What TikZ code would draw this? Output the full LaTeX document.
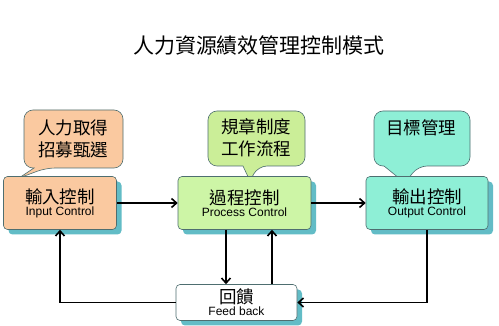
\documentclass[tikz,border=0pt]{standalone}
\usepackage{fontspec}
\setmainfont{Liberation Sans}
\newfontfamily\cjk{Noto Sans CJK TC}
\usetikzlibrary{arrows.meta,shadows}
\definecolor{peach}{HTML}{FAC9A0}
\definecolor{lgreen}{HTML}{CDF5A6}
\definecolor{cgreen}{HTML}{CBEE98}
\definecolor{aqua}{HTML}{8EEFD6}
\definecolor{shadowc}{HTML}{62BCC6}
\definecolor{edgec}{HTML}{4E6E70}
\tikzset{
  ctrlbox/.style={draw=edgec, line width=0.6pt, rounded corners=4pt, align=center,
    inner sep=1pt,
    drop shadow={shadow xshift=5pt, shadow yshift=-5pt, fill=shadowc, opacity=1}},
  bubble/.style={draw=edgec, line width=0.6pt, rounded corners=9pt},
  btext/.style={align=center, font=\cjk\fontsize{17.5}{22}\selectfont, inner sep=0pt},
  flow/.style={line width=1.8pt, -{Straight Barb[length=5pt,width=9pt,line width=1.6pt]}},
}
\newcommand{\bigcjk}[1]{{\cjk\fontsize{17.5}{18}\selectfont #1}}
\newcommand{\smalleng}[1]{{\fontsize{12}{13}\selectfont #1}}
\begin{document}
\begin{tikzpicture}[x=1pt,y=-1pt]
\useasboundingbox[fill=white] (0,0) rectangle (499,326);
% title
\node[font=\cjk\fontsize{21}{24}\selectfont] (title) at (259,45) {人力資源績效管理控制模式};

% callouts
\draw[bubble, fill=peach] (24,110) -- (123,110) -- (123,168) -- (46,168)
  [sharp corners] -- (19,178) -- (34,168) [rounded corners=9pt] -- (24,168) -- cycle;
\node[btext] (c1) at (73,139) {人力取得\\招募甄選};

\draw[bubble, fill=cgreen] (208,111) -- (305,111) -- (305,166) -- (258,166)
  [sharp corners] -- (250,181) -- (243,166) [rounded corners=9pt] -- (208,166) -- cycle;
\node[btext] (c2) at (256,138) {規章制度\\工作流程};

\draw[bubble, fill=aqua] (374,111) -- (470,111) -- (470,166) -- (418,166)
  [sharp corners] -- (405,183) -- (384,166) [rounded corners=9pt] -- (374,166) -- cycle;
\node[btext] (c3) at (421,128) {目標管理};

% control boxes
\node[ctrlbox, fill=peach, minimum width=113pt, minimum height=53pt] (in) at (60,203)
  {\bigcjk{輸入控制}\\[0pt]\smalleng{Input Control}};
\node[ctrlbox, fill=lgreen, minimum width=133pt, minimum height=53pt] (proc) at (244.5,203)
  {\bigcjk{過程控制}\\[0pt]\smalleng{Process Control}};
\node[ctrlbox, fill=aqua, minimum width=122pt, minimum height=53pt] (out) at (427,203)
  {\bigcjk{輸出控制}\\[0pt]\smalleng{Output Control}};
\node[ctrlbox, fill=white, minimum width=121pt, minimum height=36pt, inner sep=0pt] (fb) at (236.5,302.5)
  {\bigcjk{回饋}\\[0pt]\smalleng{Feed back}};

% connectors
\draw[flow] (proc.south -| 226,0) -- (fb.north -| 226,0);
\draw[flow] (fb.north -| 272,0) -- (proc.south -| 272,0);
\draw[flow] (in.east) -- (proc.west);
\draw[flow] (proc.east) -- (out.west);
\draw[flow] (out.south) |- (fb.east);
\draw[flow] (fb.west) -| (in.south);
\end{tikzpicture}
\end{document}
